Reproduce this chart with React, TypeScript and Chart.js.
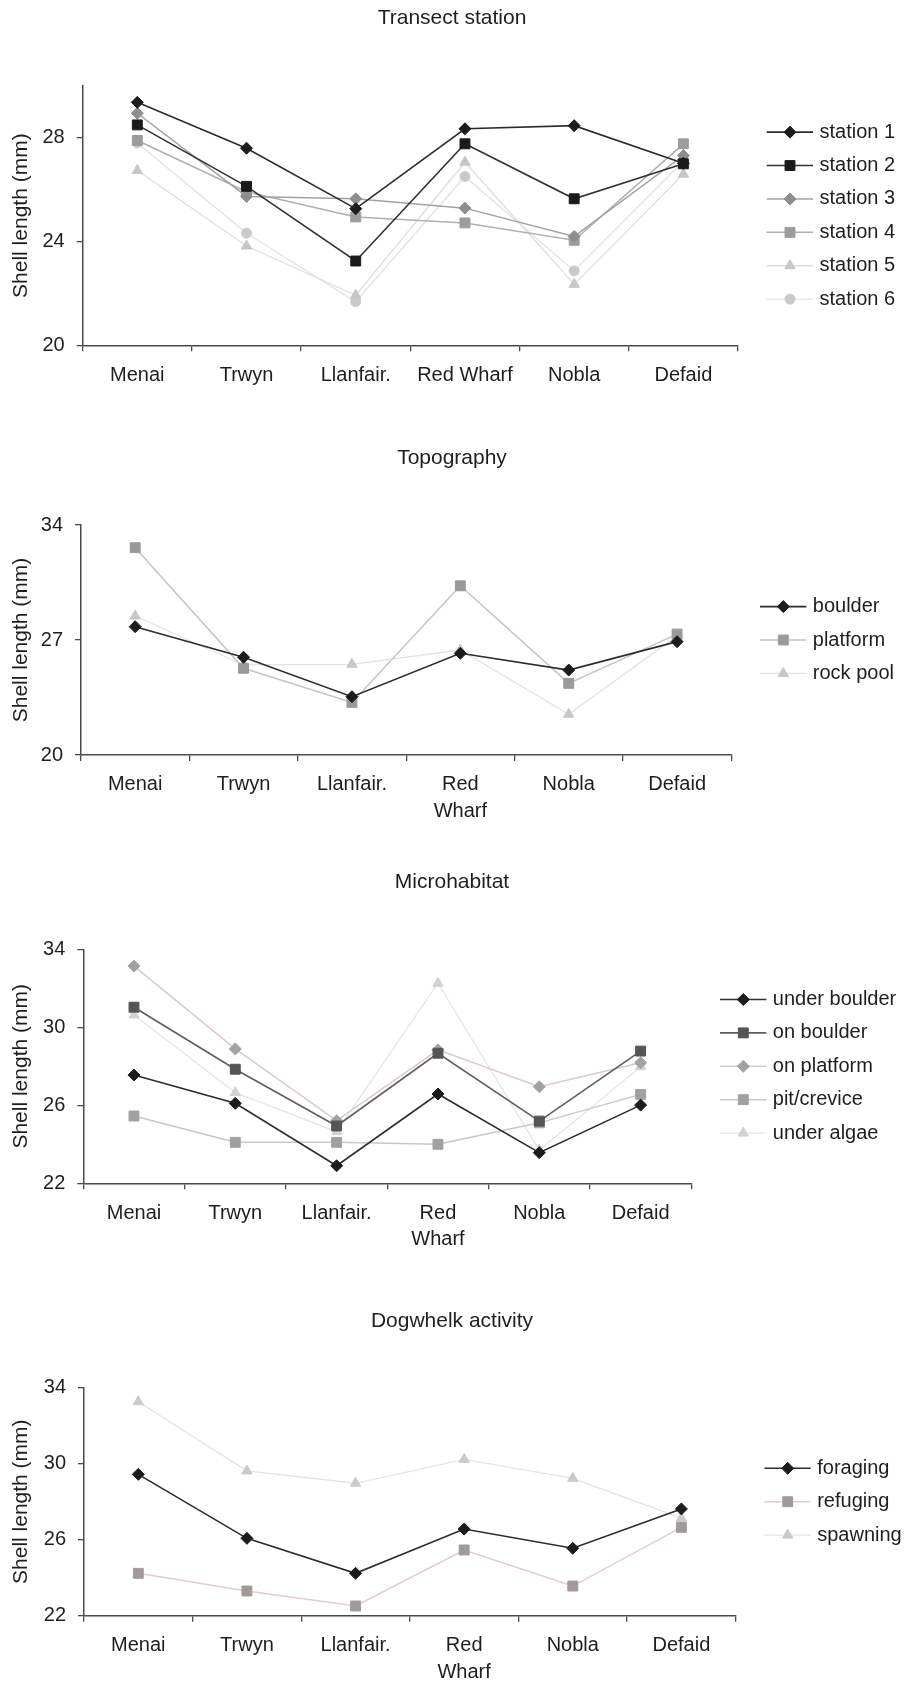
import React, { useEffect, useRef } from 'react';
import { Chart, registerables } from 'chart.js';

Chart.register(...registerables);

const FONT = '"Liberation Sans", Arial, Helvetica, sans-serif';
const TEXT = '#1e1e1e';
const AXIS = '#4a4a4a';
const Y_TITLE = 'Shell length (mm)';

// ---------- data ----------
const CATS_1 = ['Menai', 'Trwyn', 'Llanfair.', 'Red Wharf', 'Nobla', 'Defaid'];
const CATS_2 = ['Menai', 'Trwyn', 'Llanfair.', ['Red', 'Wharf'], 'Nobla', 'Defaid'];

const station1 = [29.37, 27.6, 25.27, 28.35, 28.47, 27.02];
const station2 = [28.5, 26.13, 23.25, 27.77, 25.65, 27.0];
const station3 = [28.95, 25.74, 25.65, 25.29, 24.2, 27.32];
const station4 = [27.9, 25.92, 24.95, 24.72, 24.05, 27.77];
const station5 = [26.74, 23.83, 21.93, 27.06, 22.35, 26.6];
const station6 = [27.8, 24.32, 21.68, 26.51, 22.87, 27.1];

const boulder = [27.81, 25.95, 23.55, 26.19, 25.17, 26.9];
const platform = [32.62, 25.28, 23.2, 30.3, 24.36, 27.36];
const rockPool = [28.46, 25.48, 25.52, 26.39, 22.48, 27.25];

const underBoulder = [27.55, 26.1, 22.9, 26.58, 23.57, 26.01];
const onBoulder = [31.03, 27.85, 24.94, 28.67, 25.19, 28.78];
const onPlatform = [33.14, 28.89, 25.21, 28.84, 26.95, 28.18];
const pitCrevice = [25.45, 24.1, 24.1, 24.0, 25.1, 26.56];
const underAlgae = [30.63, 26.65, 24.65, 32.26, 23.7, 27.98];

const foraging = [29.44, 26.07, 24.23, 26.56, 25.55, 27.62];
const refuging = [24.23, 23.3, 22.51, 25.46, 23.56, 26.65];
const spawning = [33.26, 29.62, 28.97, 30.23, 29.23, 27.13];

// ---------- styling ----------
type Series = {
  label: string;
  data: number[];
  line: string;
  fill: string;
  shape: string;
  radius: number;
  width: number;
};

const S = (label: string, data: number[], line: string, fill: string, shape: string, width = 1.5): Series => {
  const radius = shape === 'rect' ? 7 : shape === 'rectRot' ? 6 : shape === 'triangle' ? 6 : 5;
  return { label, data, line, fill, shape, radius, width };
};

type Spec = {
  title: string;
  titleY: number;
  bandTop: number;
  bandHeight: number;
  left: number;
  right: number;
  top: number;
  bottom: number;
  labels: any[];
  yMin: number;
  yMax: number;
  yStep: number;
  series: Series[];
};

const SPECS: Spec[] = [
  {
    title: 'Transect station', titleY: 18, bandTop: 0, bandHeight: 420,
    left: 82.7, right: 738, top: 86, bottom: 345.3,
    labels: CATS_1, yMin: 20, yMax: 30, yStep: 4,
    series: [
      S('station 1', station1, '#2c2c2c', '#1c1c1c', 'rectRot', 1.6),
      S('station 2', station2, '#333333', '#1a1a1a', 'rect', 1.6),
      S('station 3', station3, '#a2a2a2', '#8e8e8e', 'rectRot'),
      S('station 4', station4, '#b0b0b0', '#9c9c9c', 'rect'),
      S('station 5', station5, '#dedede', '#c6c6c6', 'triangle', 1.3),
      S('station 6', station6, '#e2e2e2', '#cacaca', 'circle', 1.3),
    ],
  },
  {
    title: 'Topography', titleY: 458, bandTop: 420, bandHeight: 420,
    left: 81, right: 731.3, top: 525, bottom: 755,
    labels: CATS_2, yMin: 20, yMax: 34, yStep: 7,
    series: [
      S('boulder', boulder, '#2c2c2c', '#1c1c1c', 'rectRot', 1.6),
      S('platform', platform, '#c4c4c4', '#9a9a9a', 'rect'),
      S('rock pool', rockPool, '#e2e2e2', '#c8c8c8', 'triangle', 1.3),
    ],
  },
  {
    title: 'Microhabitat', titleY: 882.7, bandTop: 840, bandHeight: 420,
    left: 83.3, right: 691.3, top: 949.3, bottom: 1183.3,
    labels: CATS_2, yMin: 22, yMax: 34, yStep: 4,
    series: [
      S('under boulder', underBoulder, '#2c2c2c', '#1c1c1c', 'rectRot', 1.6),
      S('on boulder', onBoulder, '#5e5e5e', '#555555', 'rect', 1.6),
      S('on platform', onPlatform, '#dcc9c9', '#a2a2a2', 'rectRot'),
      S('pit/crevice', pitCrevice, '#c8c8c8', '#a0a0a0', 'rect'),
      S('under algae', underAlgae, '#e6e6e6', '#d2d2d2', 'triangle', 1.3),
    ],
  },
  {
    title: 'Dogwhelk activity', titleY: 1321, bandTop: 1260, bandHeight: 424,
    left: 84, right: 735.7, top: 1387.7, bottom: 1615.7,
    labels: CATS_2, yMin: 22, yMax: 34, yStep: 4,
    series: [
      S('foraging', foraging, '#2c2c2c', '#1c1c1c', 'rectRot', 1.6),
      S('refuging', refuging, '#e2cccc', '#a29a9a', 'rect'),
      S('spawning', spawning, '#e4e4e4', '#cacaca', 'triangle', 1.3),
    ],
  },
];

function drawMarker(ctx: CanvasRenderingContext2D, shape: string, x: number, y: number, r: number, color: string) {
  ctx.save();
  ctx.fillStyle = color;
  ctx.strokeStyle = color;
  ctx.lineWidth = 1;
  ctx.beginPath();
  if (shape === 'circle') {
    ctx.arc(x, y, r, 0, Math.PI * 2);
  } else if (shape === 'rect') {
    const h = r * Math.SQRT1_2;
    ctx.rect(x - h, y - h, 2 * h, 2 * h);
  } else if (shape === 'rectRot') {
    ctx.moveTo(x, y - r);
    ctx.lineTo(x + r, y);
    ctx.lineTo(x, y + r);
    ctx.lineTo(x - r, y);
    ctx.closePath();
  } else if (shape === 'triangle') {
    ctx.moveTo(x, y - r);
    ctx.lineTo(x + r * Math.sin(Math.PI / 3), y + r * 0.5);
    ctx.lineTo(x - r * Math.sin(Math.PI / 3), y + r * 0.5);
    ctx.closePath();
  }
  ctx.fill();
  ctx.stroke();
  ctx.restore();
}

const decoPlugin = {
  id: 'deco',
  afterDraw(chart: any, _args: any, opts: any) {
    const ctx: CanvasRenderingContext2D = chart.ctx;
    const ca = chart.chartArea;
    ctx.save();
    ctx.fillStyle = TEXT;
    ctx.font = `21px ${FONT}`;
    ctx.textAlign = 'center';
    ctx.textBaseline = 'middle';
    ctx.fillText(opts.title, 452, opts.titleY);

    const series: Series[] = opts.series;
    const n = series.length;
    const cy = (ca.top + ca.bottom) / 2;
    series.forEach((s, i) => {
      const y = cy + (i - (n - 1) / 2) * 33.4;
      ctx.strokeStyle = s.line;
      ctx.lineWidth = s.width;
      ctx.beginPath();
      ctx.moveTo(ca.right + 28.7, y);
      ctx.lineTo(ca.right + 75, y);
      ctx.stroke();
      drawMarker(ctx, s.shape, ca.right + 52, y, s.radius, s.fill);
      ctx.fillStyle = TEXT;
      ctx.font = `20px ${FONT}`;
      ctx.textAlign = 'left';
      ctx.textBaseline = 'middle';
      ctx.fillText(s.label, ca.right + 81.5, y);
    });
    ctx.restore();
  },
};

function LineBlock({ spec }: { spec: Spec }) {
  const ref = useRef<HTMLCanvasElement | null>(null);
  useEffect(() => {
    if (!ref.current) return;
    const s = spec;
    const chart = new Chart(ref.current, {
      type: 'line',
      data: {
        labels: s.labels,
        datasets: s.series.map((d) => ({
          label: d.label,
          data: d.data,
          borderColor: d.line,
          borderWidth: d.width,
          backgroundColor: d.fill,
          pointStyle: d.shape as any,
          pointRadius: d.radius,
          pointHoverRadius: d.radius,
          pointBackgroundColor: d.fill,
          pointBorderColor: d.fill,
          pointBorderWidth: 1,
          tension: 0,
          fill: false,
        })),
      },
      options: {
        responsive: false,
        animation: false,
        events: [],
        layout: { padding: { top: s.top - s.bandTop, right: 904 - s.right, left: 0, bottom: 0 } },
        plugins: {
          legend: { display: false },
          title: { display: false },
          tooltip: { enabled: false },
          deco: { title: s.title, titleY: s.titleY - s.bandTop, series: s.series },
        } as any,
        scales: {
          x: {
            type: 'category',
            offset: true,
            grid: {
              display: true,
              drawOnChartArea: false,
              drawTicks: true,
              tickLength: 6,
              color: AXIS,
              lineWidth: 1.3,
              offset: true,
            },
            border: { display: true, color: AXIS, width: 1.5 },
            ticks: {
              color: TEXT,
              font: { family: FONT, size: 20, lineHeight: 1.33 },
              padding: 10.5,
              autoSkip: false,
              maxRotation: 0,
              minRotation: 0,
            },
            afterFit: (sc: any) => {
              sc.height = s.bandTop + s.bandHeight - s.bottom;
            },
          },
          y: {
            type: 'linear',
            min: s.yMin,
            max: s.yMax,
            ticks: {
              stepSize: s.yStep,
              color: TEXT,
              font: { family: FONT, size: 20 },
              padding: 12,
            },
            grid: {
              display: true,
              drawOnChartArea: false,
              drawTicks: true,
              tickLength: 6,
              color: AXIS,
              lineWidth: 1.3,
            },
            border: { display: true, color: AXIS, width: 1.5 },
            title: {
              display: true,
              text: Y_TITLE,
              color: TEXT,
              font: { family: FONT, size: 21 },
              padding: { top: 8.5, bottom: 0 },
            },
            afterBuildTicks: (sc: any) => {
              sc.ticks = sc.ticks.filter(
                (t: any) => Math.abs(((t.value - s.yMin) / s.yStep) - Math.round((t.value - s.yMin) / s.yStep)) < 1e-6
              );
            },
            afterFit: (sc: any) => {
              sc.width = s.left;
            },
          },
        },
      } as any,
      plugins: [decoPlugin],
    });
    return () => chart.destroy();
  }, [spec]);

  return (
    <canvas
      ref={ref}
      width={904}
      height={spec.bandHeight}
      style={{
        position: 'absolute',
        left: 0,
        top: spec.bandTop,
        width: 904,
        height: spec.bandHeight,
        display: 'block',
      }}
    />
  );
}

export default function App() {
  return (
    <div
      style={{
        position: 'absolute',
        left: 0,
        top: 0,
        width: 904,
        height: 1684,
        background: '#ffffff',
        overflow: 'hidden',
      }}
    >
      {SPECS.map((sp) => (
        <LineBlock key={sp.title} spec={sp} />
      ))}
    </div>
  );
}
